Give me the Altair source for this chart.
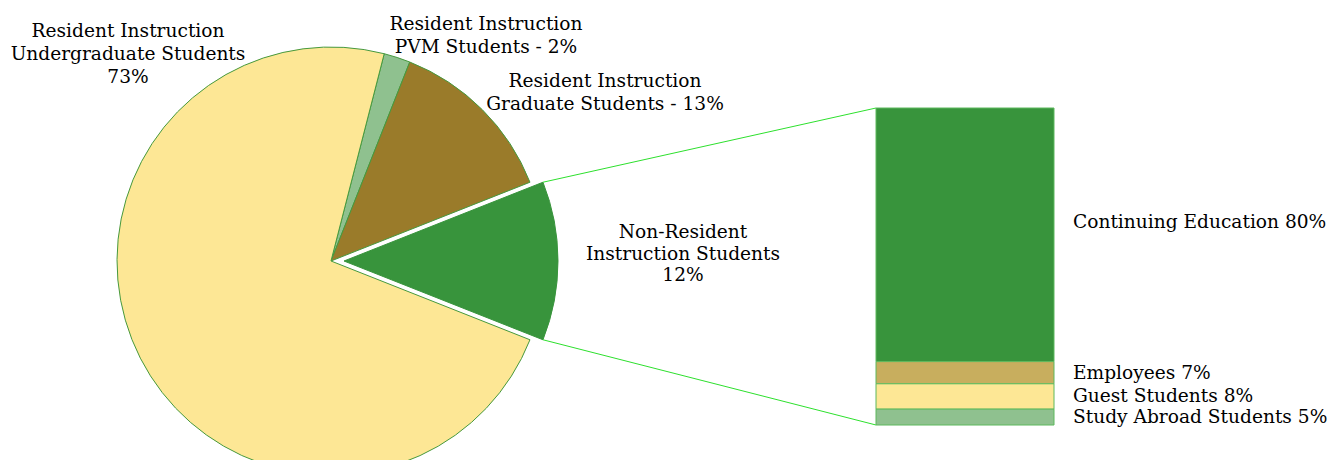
import math
import altair as alt
import pandas as pd

# ---------------- data ----------------
pie_keys = ["PVM", "Graduate", "NonResident", "Undergraduate"]
pie_values = [2, 13, 12, 73]
pie_label_lines = [
    ["Resident Instruction", "PVM Students - 2%"],
    ["Resident Instruction", "Graduate Students - 13%"],
    ["Non-Resident", "Instruction Students", "12%"],
    ["Resident Instruction", "Undergraduate Students", "73%"],
]
pie_colors = ["#8fc18f", "#9a7b2a", "#38943c", "#fde795"]

bar_categories = ["Continuing Education", "Employees", "Guest Students", "Study Abroad Students"]
bar_values = [80, 7, 8, 5]
bar_colors = ["#38943c", "#c8ae5e", "#fde795", "#8fc18f"]

# ---------------- layout ----------------
W, H = 1327, 452
CX, CY, R = 323, 253, 214
EXPLODE = 13
START = math.radians(14.4)
FONT = "DejaVu Serif"
FS = 18.6
BX0, BX1 = 868, 1046
BAR_TOP, BAR_BOTTOM = 100, 417
LABEL_X = 1065
label_pos = {  # x center, first baseline, line height
    "PVM": (478, 22, 23),
    "Graduate": (597, 79, 23),
    "NonResident": (675, 230, 21.5),
    "Undergraduate": (120, 28.5, 23.3),
}

pie_df = pd.DataFrame({"key": pie_keys, "value": pie_values, "idx": range(len(pie_keys))})
bar_df = pd.DataFrame({"cat": bar_categories, "value": bar_values, "idx": range(len(bar_categories))})

theta_scale = alt.Scale(domain=[0, 100], range=[START, START + 2 * math.pi])
pie_color = alt.Color("key:N", scale=alt.Scale(domain=pie_keys, range=pie_colors), legend=None)

pie_base = alt.Chart(pie_df).transform_window(
    cum="sum(value)", sort=[alt.SortField("idx")], frame=[None, 0]
).transform_calculate(start="datum.cum - datum.value")

main_pie = pie_base.transform_filter(alt.datum.key != "NonResident").mark_arc(
    x=CX, y=CY, outerRadius=R, stroke="#46993e", strokeWidth=1
).encode(theta=alt.Theta("start:Q", scale=theta_scale), theta2="cum:Q", color=pie_color)

expl_pie = pie_base.transform_filter(alt.datum.key == "NonResident").mark_arc(
    x=CX + EXPLODE, y=CY, outerRadius=R, stroke="#38943c", strokeWidth=1
).encode(theta=alt.Theta("start:Q", scale=theta_scale), theta2="cum:Q", color=pie_color)

# bar
y_scale = alt.Scale(domain=[0, 100], range=[BAR_BOTTOM, BAR_TOP])
bar_base = alt.Chart(bar_df).transform_window(
    top="sum(value)", sort=[alt.SortField("idx", order="descending")], frame=[None, 0]
).transform_calculate(
    bottom="datum.top - datum.value",
    mid="datum.top - datum.value / 2",
    label="datum.cat + ' ' + datum.value + '%'",
)
bars = bar_base.mark_bar(stroke="#5cb85c", strokeWidth=1).encode(
    x=alt.value(BX0), x2=alt.value(BX1),
    y=alt.Y("bottom:Q", scale=y_scale, axis=None), y2="top:Q",
    color=alt.Color("cat:N", scale=alt.Scale(domain=bar_categories, range=bar_colors), legend=None),
)
bar_text = bar_base.transform_filter(alt.datum.idx > 0).mark_text(
    align="left", baseline="middle", x=LABEL_X, font=FONT, fontSize=FS, color="#000000"
).encode(y=alt.Y("mid:Q", scale=y_scale, axis=None), text="label:N")
bar_text_top = bar_base.transform_filter(alt.datum.idx == 0).mark_text(
    align="left", baseline="middle", x=LABEL_X, dy=-13, font=FONT, fontSize=FS, color="#000000"
).encode(y=alt.Y("mid:Q", scale=y_scale, axis=None), text="label:N")

# connector lines from exploded slice edges to bar corners
total = sum(pie_values)
i_nr = pie_keys.index("NonResident")
before = sum(pie_values[:i_nr])
a0 = START + 2 * math.pi * before / total
a1 = START + 2 * math.pi * (before + pie_values[i_nr]) / total
p0 = (CX + EXPLODE + R * math.sin(a0), CY - R * math.cos(a0))
p1 = (CX + EXPLODE + R * math.sin(a1), CY - R * math.cos(a1))
one = alt.Data(values=[{"k": 1}])
line_top = alt.Chart(one).mark_rule(color="#2de02d", strokeWidth=1).encode(
    x=alt.value(p0[0]), y=alt.value(p0[1]), x2=alt.value(BX0), y2=alt.value(BAR_TOP)
)
line_bot = alt.Chart(one).mark_rule(color="#2de02d", strokeWidth=1).encode(
    x=alt.value(p1[0]), y=alt.value(p1[1]), x2=alt.value(BX0), y2=alt.value(BAR_BOTTOM)
)

# pie labels
label_layers = []
for key, lines in zip(pie_keys, pie_label_lines):
    lx, ly, lh = label_pos[key]
    label_layers.append(
        alt.Chart(one).mark_text(
            x=lx, y=ly, align="center", baseline="alphabetic", lineHeight=lh,
            font=FONT, fontSize=FS, color="#000000"
        ).encode(text=alt.value(lines))
    )

chart = alt.layer(
    main_pie, expl_pie, line_top, line_bot, bars, bar_text, bar_text_top, *label_layers
).resolve_scale(color="independent").properties(
    width=W, height=H, padding=0, autosize=alt.AutoSizeParams(type="none"), background="white"
).configure_view(stroke=None)

chart.save("out.html", embed_options={"renderer": "svg", "actions": False})
